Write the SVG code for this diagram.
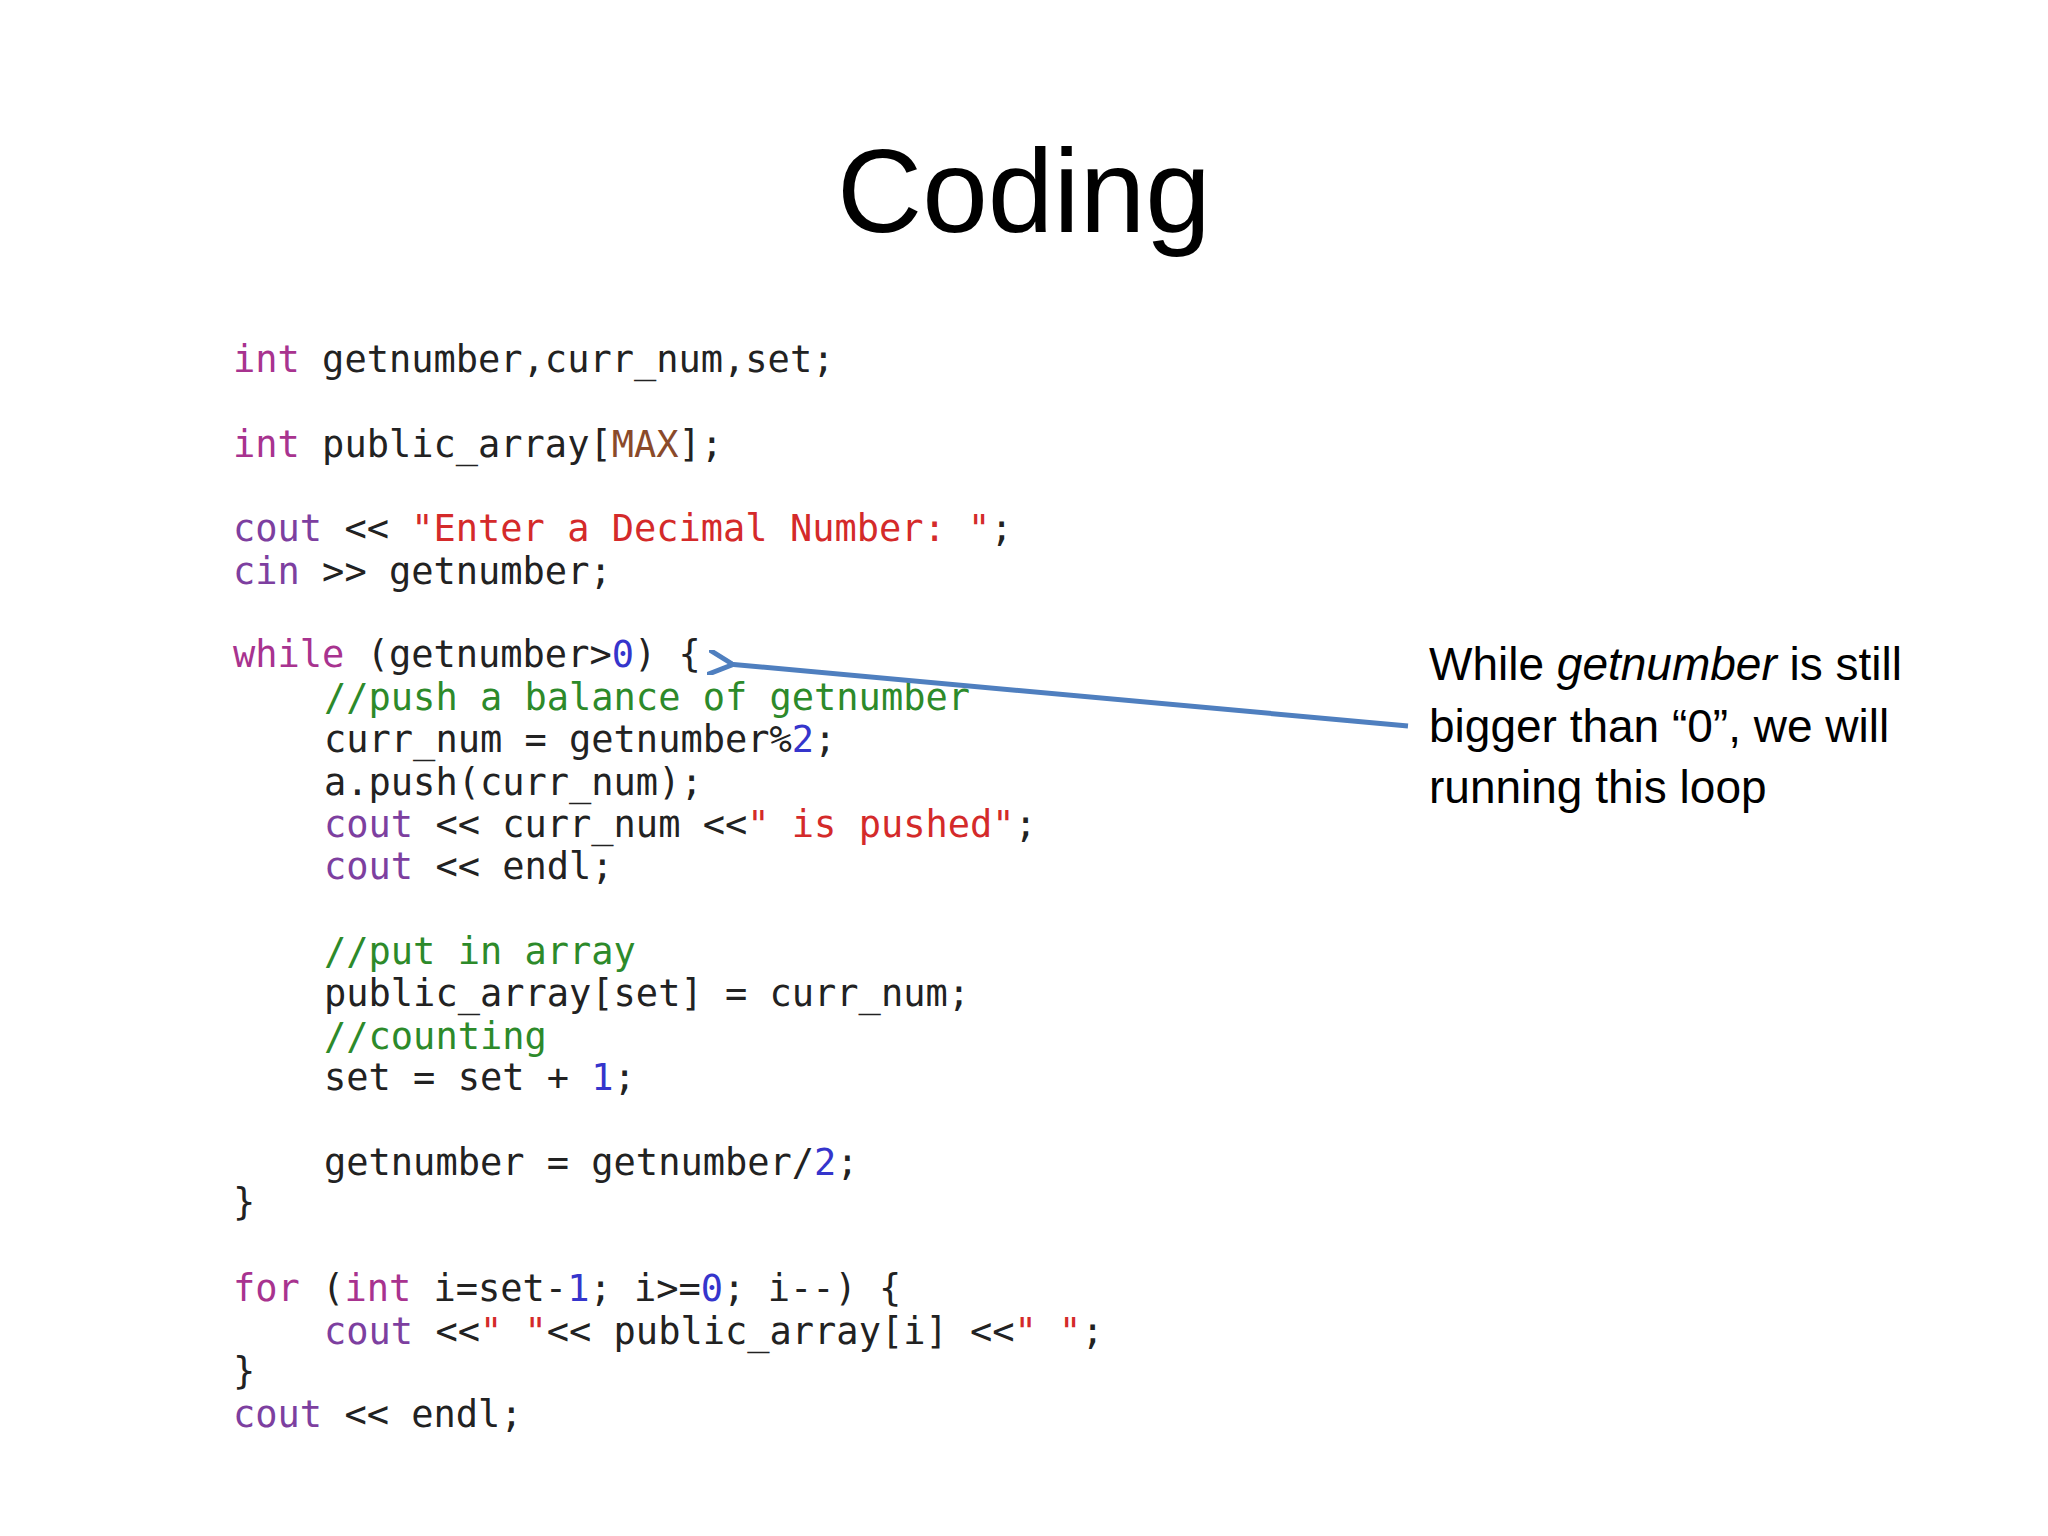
<svg xmlns="http://www.w3.org/2000/svg" width="2048" height="1536" viewBox="0 0 2048 1536">
<style>
.c{font-family:"DejaVu Sans Mono","Liberation Mono",monospace;font-size:37px;fill:#222}
.k{fill:#a8338f}.o{fill:#7d3fa0}.s{fill:#d42a2a}.g{fill:#2d8a2a}.n{fill:#3535cc}.m{fill:#8a4a2a}
.t{font-family:"Liberation Sans",Arial,sans-serif;fill:#000}
</style>
<defs><marker id="ah" viewBox="0 0 10 10" refX="2" refY="5" markerWidth="5" markerHeight="5" orient="auto-start-reverse"><path d="M10,0 L0,5 L10,10" fill="none" stroke="#4f7fbf" stroke-width="2"/></marker></defs>
<rect width="2048" height="1536" fill="#fff"/>
<text class="t" x="1024" y="232" font-size="118" text-anchor="middle">Coding</text>
<g id="code" class="c">
<text x="233" y="372"><tspan class="k">int</tspan> getnumber,curr_num,set;</text>
<text x="233" y="457"><tspan class="k">int</tspan> public_array[<tspan class="m">MAX</tspan>];</text>
<text x="233" y="541"><tspan class="o">cout</tspan> &lt;&lt; <tspan class="s">"Enter a Decimal Number: "</tspan>;</text>
<text x="233" y="584"><tspan class="o">cin</tspan> &gt;&gt; getnumber;</text>
<text x="233" y="667"><tspan class="k">while</tspan> (getnumber&gt;<tspan class="n">0</tspan>) {</text>
<text x="324" y="710" class="g">//push a balance of getnumber</text>
<text x="324" y="752">curr_num = getnumber%<tspan class="n">2</tspan>;</text>
<text x="324" y="795">a.push(curr_num);</text>
<text x="324" y="837"><tspan class="o">cout</tspan> &lt;&lt; curr_num &lt;&lt;<tspan class="s">" is pushed"</tspan>;</text>
<text x="324" y="879"><tspan class="o">cout</tspan> &lt;&lt; endl;</text>
<text x="324" y="964" class="g">//put in array</text>
<text x="324" y="1006">public_array[set] = curr_num;</text>
<text x="324" y="1049" class="g">//counting</text>
<text x="324" y="1090">set = set + <tspan class="n">1</tspan>;</text>
<text x="324" y="1175">getnumber = getnumber/<tspan class="n">2</tspan>;</text>
<text x="233" y="1215">}</text>
<text x="233" y="1301"><tspan class="k">for</tspan> (<tspan class="k">int</tspan> i=set-<tspan class="n">1</tspan>; i&gt;=<tspan class="n">0</tspan>; i--) {</text>
<text x="324" y="1344"><tspan class="o">cout</tspan> &lt;&lt;<tspan class="s">" "</tspan>&lt;&lt; public_array[i] &lt;&lt;<tspan class="s">" "</tspan>;</text>
<text x="233" y="1384">}</text>
<text x="233" y="1427"><tspan class="o">cout</tspan> &lt;&lt; endl;</text>
</g>
<g id="connectors"><line x1="1408" y1="726" x2="728" y2="664" stroke="#4f7fbf" stroke-width="5" marker-end="url(#ah)"/></g>
<g id="note" class="t" font-size="46">
<text x="1429" y="680">While <tspan font-style="italic">getnumber</tspan> is still</text>
<text x="1429" y="742">bigger than “0”, we will</text>
<text x="1429" y="803">running this loop</text>
</g>
</svg>
